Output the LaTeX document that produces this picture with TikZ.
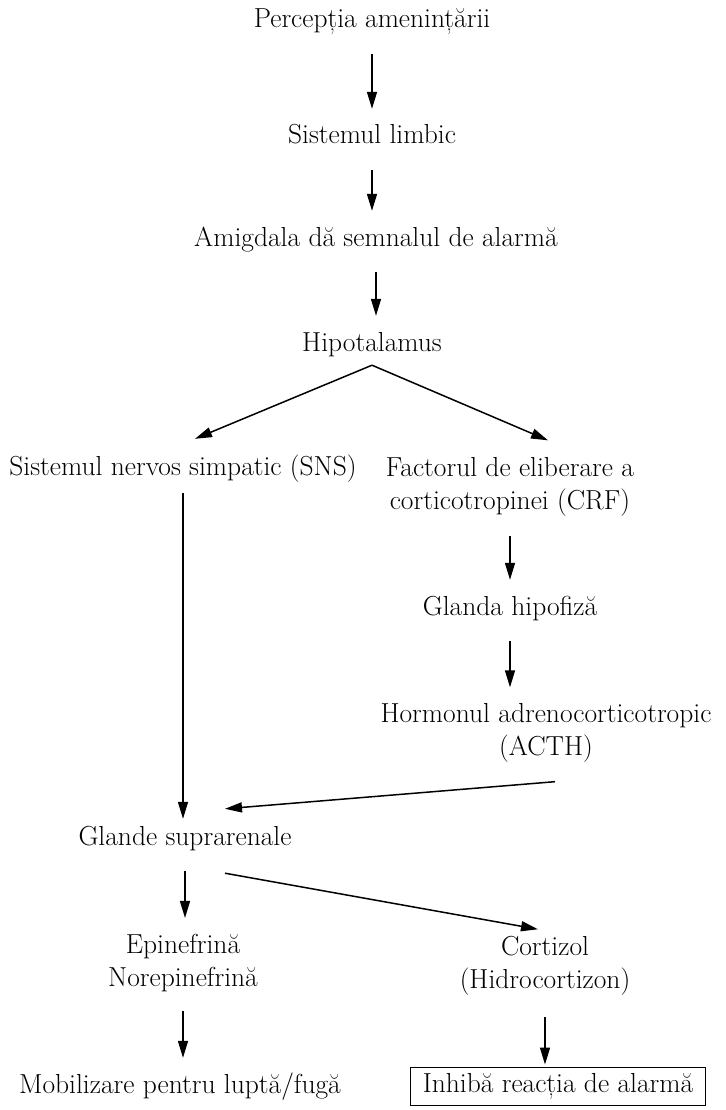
\documentclass[tikz,border=0pt]{standalone}
\usepackage{tikz}
\usetikzlibrary{arrows.meta,positioning}

\begin{document}
\begin{tikzpicture}[
  x=1pt, y=-1pt,
  font=\fontsize{27.5}{33}\selectfont,
  >={Triangle[length=17pt,width=10pt]},
  txt/.style ={inner sep=3pt,text height=19pt,text depth=7pt},
  txt2/.style={inner sep=3pt,align=center},
  result/.style={txt,draw,line width=1pt,inner xsep=12pt,inner ysep=6pt},
  arrow/.style={->,line width=1.5pt},
  vlink/.style={arrow,shorten <=16pt,shorten >=13pt},
]

\useasboundingbox (0,0) rectangle (725,1110);

%% ===== Main chain ============================================================
\node[txt] (percep) at (372,22)  {Percepția amenințării};
\node[txt] (limbic) at (372,138) {Sistemul limbic};
\node[txt] (amig)   at (376,240) {Amigdala dă semnalul de alarmă};
\node[txt] (hipo)   at (372,345) {Hipotalamus};
\coordinate (apex) at ([yshift=-4pt]hipo.south);

%% ===== Two branches ==========================================================
\node[txt]  (sns)   at (183,469) {Sistemul nervos simpatic (SNS)};
\node[txt2] (crf)   at (510,487) {Factorul de eliberare a\\corticotropinei (CRF)};
\node[txt]  (hipof) at (510,609) {Glanda hipofiză};
\node[txt2] (acth)  at (546,733) {Hormonul adrenocorticotropic\\(ACTH)};
\node[txt]  (glande) at (185,839) {Glande suprarenale};

%% ===== Outputs ===============================================================
\node[txt2] (epi)   at (183,963) {Epinefrină\\Norepinefrină};
\node[txt2] (cort)  at (545,966) {Cortizol\\(Hidrocortizon)};
\node[txt]  (mobil) at (180,1087) {Mobilizare pentru luptă/fugă};
\node[result] (inhib) at (558,1086) {Inhibă reacția de alarmă};

%% ===== Arrows ================================================================
\foreach \a/\b in {percep/limbic, limbic/amig, amig/hipo, crf/hipof,
                   hipof/acth, glande/epi, epi/mobil} {
  \draw[vlink] (\a.south) -- (\a.south |- \b.north);
}
\draw[arrow,shorten <=18pt,shorten >=2pt] (cort.south) -- (cort.south |- inhib.north);

\draw[arrow] (apex) -- ([xshift=12pt,yshift=14pt]sns.north);
\draw[arrow] (apex) -- ([xshift=38pt,yshift=14pt]crf.north);

\draw[arrow,shorten <=8pt,shorten >=4pt] (sns.south) -- (sns.south |- glande.north);
\draw[arrow] ([xshift=9pt,yshift=-16pt]acth.south)
  -- ([xshift=40pt,yshift=14pt]glande.north);
\draw[arrow] ([xshift=40pt,yshift=-18pt]glande.south)
  -- ([xshift=-7pt,yshift=4pt]cort.north);

\end{tikzpicture}
\end{document}
